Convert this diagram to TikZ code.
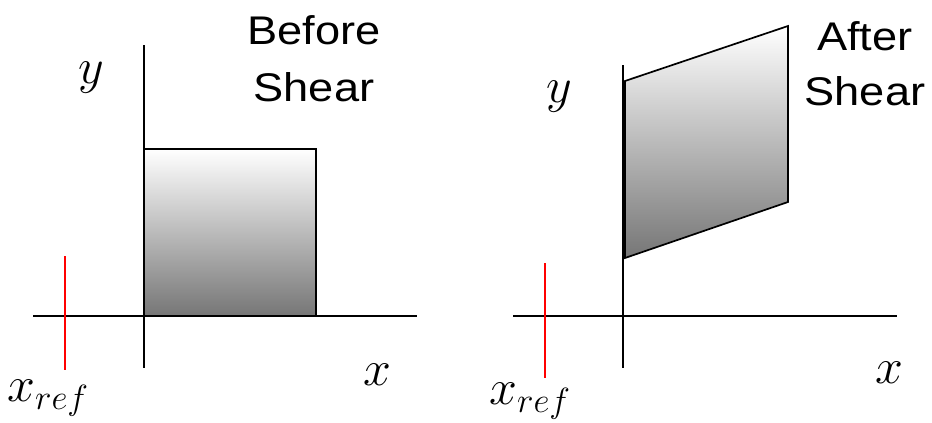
\RequirePackage{fix-cm}
\documentclass[tikz,border=0pt]{standalone}
\usepackage{fontspec}
\setmainfont{Liberation Sans}
\begin{document}
\begin{tikzpicture}[x=1pt,y=-1pt,
  axis/.style={line width=1.7pt,black},
  refline/.style={line width=1.7pt,red},
  shadedbox/.style={draw=black,line width=1.7pt,top color=white,middle color={rgb,255:red,212;green,212;blue,212},bottom color={rgb,255:red,118;green,118;blue,118}},
  title/.style={font=\fontsize{40}{48}\selectfont,inner sep=0pt,anchor=base},
  mlabel/.style={font=\fontsize{50}{58}\selectfont,inner sep=0pt}]
\useasboundingbox (0,0) rectangle (932,423);
% ---------- left panel ----------
\coordinate (lyt) at (144,45);
\coordinate (lyb) at (144,368);
\coordinate (lxl) at (33,316);
\coordinate (lxr) at (417,316);
\coordinate (lrt) at (65,256);
\coordinate (lrb) at (65,370);
\coordinate (sq1) at (144,149);
\coordinate (sq2) at (316,316);
\shade[shadedbox] (sq1) rectangle (sq2);
\draw[axis] (lyt) -- (lyb);
\draw[axis] (lxl) -- (lxr);
\draw[refline] (lrt) -- (lrb);
\node[mlabel] (ly) at (91,78) {$y$};
\node[mlabel] (lx) at (377,375) {$x$};
\node[mlabel] (lxref) at (48,398) {$x_{ref}$};
\node[title] (lt1) at (314,44) {\scalebox{1.13}[1]{Before}};
\node[title] (lt2) at (314,101) {\scalebox{1.13}[1]{Shear}};
% ---------- right panel ----------
\coordinate (ryt) at (623,65);
\coordinate (ryb) at (623,368);
\coordinate (rxl) at (513,316);
\coordinate (rxr) at (897,316);
\coordinate (rrt) at (545,263);
\coordinate (rrb) at (545,378);
\coordinate (p1) at (625,81);
\coordinate (p2) at (788,26);
\coordinate (p3) at (788,202);
\coordinate (p4) at (625,258);
\shade[shadedbox] (p1) -- (p2) -- (p3) -- (p4) -- cycle;
\draw[axis] (ryt) -- (ryb);
\draw[axis] (rxl) -- (rxr);
\draw[refline] (rrt) -- (rrb);
\node[mlabel] (ry) at (559,97) {$y$};
\node[mlabel] (rx) at (889,373) {$x$};
\node[mlabel] (rxref) at (530,401) {$x_{ref}$};
\node[title] (rt1) at (865,50) {\scalebox{1.13}[1]{After}};
\node[title] (rt2) at (865,105) {\scalebox{1.13}[1]{Shear}};
\end{tikzpicture}
\end{document}
